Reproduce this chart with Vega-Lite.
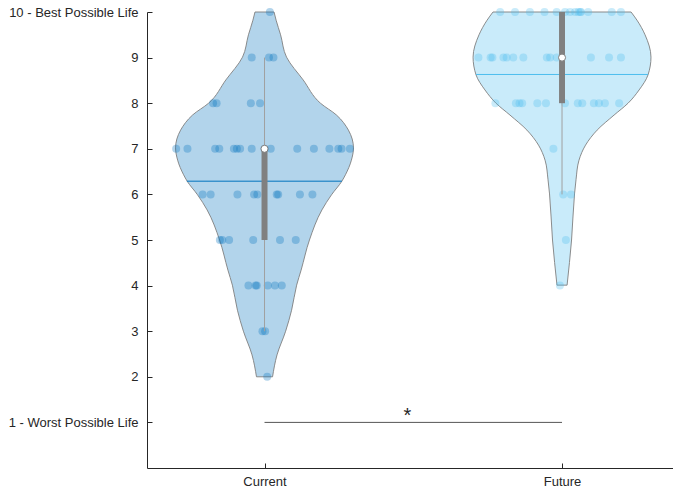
{
  "$schema": "https://vega.github.io/schema/vega-lite/v6.json",
  "width": 526,
  "height": 456,
  "autosize": {"type": "none"},
  "padding": {"left": 147, "top": 12, "right": 0, "bottom": 23},
  "background": "white",
  "config": {
    "view": {"stroke": null},
    "axis": {
      "grid": false,
      "domainColor": "#262626",
      "tickColor": "#262626",
      "labelColor": "#262626",
      "labelFont": "Liberation Sans",
      "labelFontSize": 13,
      "tickSize": -5,
      "domainWidth": 1,
      "tickWidth": 1
    }
  },
  "datasets": {
    "violin": [
      {"g": "Current", "y": 2.0, "lo": 0.973, "hi": 1.027},
      {"g": "Current", "y": 2.48, "lo": 0.958, "hi": 1.042},
      {"g": "Current", "y": 3.0, "lo": 0.929, "hi": 1.071},
      {"g": "Current", "y": 3.46, "lo": 0.909, "hi": 1.091},
      {"g": "Current", "y": 4.01, "lo": 0.892, "hi": 1.108},
      {"g": "Current", "y": 4.34, "lo": 0.877, "hi": 1.123},
      {"g": "Current", "y": 5.0, "lo": 0.849, "hi": 1.151},
      {"g": "Current", "y": 5.66, "lo": 0.807, "hi": 1.193},
      {"g": "Current", "y": 5.99, "lo": 0.775, "hi": 1.225},
      {"g": "Current", "y": 6.29, "lo": 0.74, "hi": 1.26},
      {"g": "Current", "y": 6.43, "lo": 0.728, "hi": 1.272},
      {"g": "Current", "y": 6.75, "lo": 0.708, "hi": 1.292},
      {"g": "Current", "y": 7.02, "lo": 0.701, "hi": 1.299},
      {"g": "Current", "y": 7.41, "lo": 0.718, "hi": 1.282},
      {"g": "Current", "y": 7.74, "lo": 0.758, "hi": 1.242},
      {"g": "Current", "y": 8.0, "lo": 0.812, "hi": 1.188},
      {"g": "Current", "y": 8.51, "lo": 0.87, "hi": 1.13},
      {"g": "Current", "y": 9.01, "lo": 0.926, "hi": 1.074},
      {"g": "Current", "y": 9.5, "lo": 0.946, "hi": 1.054},
      {"g": "Current", "y": 9.82, "lo": 0.961, "hi": 1.039},
      {"g": "Current", "y": 10.0, "lo": 0.968, "hi": 1.032},
      {"g": "Future", "y": 4.01, "lo": 1.983, "hi": 2.017},
      {"g": "Future", "y": 5.0, "lo": 1.968, "hi": 2.032},
      {"g": "Future", "y": 6.01, "lo": 1.958, "hi": 2.042},
      {"g": "Future", "y": 6.32, "lo": 1.953, "hi": 2.047},
      {"g": "Future", "y": 6.75, "lo": 1.943, "hi": 2.057},
      {"g": "Future", "y": 7.08, "lo": 1.921, "hi": 2.079},
      {"g": "Future", "y": 7.41, "lo": 1.882, "hi": 2.118},
      {"g": "Future", "y": 7.74, "lo": 1.825, "hi": 2.175},
      {"g": "Future", "y": 8.0, "lo": 1.778, "hi": 2.222},
      {"g": "Future", "y": 8.29, "lo": 1.741, "hi": 2.259},
      {"g": "Future", "y": 8.62, "lo": 1.711, "hi": 2.289},
      {"g": "Future", "y": 9.01, "lo": 1.701, "hi": 2.299},
      {"g": "Future", "y": 9.5, "lo": 1.721, "hi": 2.279},
      {"g": "Future", "y": 9.82, "lo": 1.748, "hi": 2.252},
      {"g": "Future", "y": 10.0, "lo": 1.768, "hi": 2.232}
    ],
    "points": [
      {"g": "Current", "x": 1.018, "y": 10},
      {"g": "Current", "x": 0.957, "y": 9},
      {"g": "Current", "x": 1.015, "y": 9},
      {"g": "Current", "x": 1.03, "y": 9},
      {"g": "Current", "x": 0.827, "y": 8},
      {"g": "Current", "x": 0.839, "y": 8},
      {"g": "Current", "x": 0.954, "y": 8},
      {"g": "Current", "x": 0.985, "y": 8},
      {"g": "Current", "x": 0.703, "y": 7},
      {"g": "Current", "x": 0.741, "y": 7},
      {"g": "Current", "x": 0.834, "y": 7},
      {"g": "Current", "x": 0.848, "y": 7},
      {"g": "Current", "x": 0.897, "y": 7},
      {"g": "Current", "x": 0.907, "y": 7},
      {"g": "Current", "x": 0.918, "y": 7},
      {"g": "Current", "x": 0.957, "y": 7},
      {"g": "Current", "x": 1.0, "y": 7},
      {"g": "Current", "x": 1.021, "y": 7},
      {"g": "Current", "x": 1.11, "y": 7},
      {"g": "Current", "x": 1.166, "y": 7},
      {"g": "Current", "x": 1.218, "y": 7},
      {"g": "Current", "x": 1.248, "y": 7},
      {"g": "Current", "x": 1.259, "y": 7},
      {"g": "Current", "x": 1.287, "y": 7},
      {"g": "Current", "x": 0.792, "y": 6},
      {"g": "Current", "x": 0.819, "y": 6},
      {"g": "Current", "x": 0.909, "y": 6},
      {"g": "Current", "x": 0.965, "y": 6},
      {"g": "Current", "x": 0.976, "y": 6},
      {"g": "Current", "x": 1.041, "y": 6},
      {"g": "Current", "x": 1.046, "y": 6},
      {"g": "Current", "x": 1.119, "y": 6},
      {"g": "Current", "x": 1.161, "y": 6},
      {"g": "Current", "x": 0.85, "y": 5},
      {"g": "Current", "x": 0.858, "y": 5},
      {"g": "Current", "x": 0.881, "y": 5},
      {"g": "Current", "x": 0.962, "y": 5},
      {"g": "Current", "x": 1.052, "y": 5},
      {"g": "Current", "x": 1.105, "y": 5},
      {"g": "Current", "x": 0.946, "y": 4},
      {"g": "Current", "x": 0.97, "y": 4},
      {"g": "Current", "x": 0.974, "y": 4},
      {"g": "Current", "x": 1.011, "y": 4},
      {"g": "Current", "x": 1.035, "y": 4},
      {"g": "Current", "x": 1.058, "y": 4},
      {"g": "Current", "x": 0.993, "y": 3},
      {"g": "Current", "x": 1.002, "y": 3},
      {"g": "Current", "x": 1.009, "y": 2},
      {"g": "Future", "x": 1.792, "y": 10},
      {"g": "Future", "x": 1.842, "y": 10},
      {"g": "Future", "x": 1.892, "y": 10},
      {"g": "Future", "x": 1.941, "y": 10},
      {"g": "Future", "x": 1.982, "y": 10},
      {"g": "Future", "x": 2.01, "y": 10},
      {"g": "Future", "x": 2.027, "y": 10},
      {"g": "Future", "x": 2.044, "y": 10},
      {"g": "Future", "x": 2.055, "y": 10},
      {"g": "Future", "x": 2.061, "y": 10},
      {"g": "Future", "x": 2.064, "y": 10},
      {"g": "Future", "x": 2.088, "y": 10},
      {"g": "Future", "x": 2.167, "y": 10},
      {"g": "Future", "x": 2.198, "y": 10},
      {"g": "Future", "x": 1.719, "y": 9},
      {"g": "Future", "x": 1.76, "y": 9},
      {"g": "Future", "x": 1.766, "y": 9},
      {"g": "Future", "x": 1.803, "y": 9},
      {"g": "Future", "x": 1.814, "y": 9},
      {"g": "Future", "x": 1.836, "y": 9},
      {"g": "Future", "x": 1.87, "y": 9},
      {"g": "Future", "x": 1.949, "y": 9},
      {"g": "Future", "x": 1.96, "y": 9},
      {"g": "Future", "x": 1.982, "y": 9},
      {"g": "Future", "x": 2.097, "y": 9},
      {"g": "Future", "x": 2.158, "y": 9},
      {"g": "Future", "x": 2.198, "y": 9},
      {"g": "Future", "x": 1.776, "y": 8},
      {"g": "Future", "x": 1.845, "y": 8},
      {"g": "Future", "x": 1.857, "y": 8},
      {"g": "Future", "x": 1.866, "y": 8},
      {"g": "Future", "x": 1.917, "y": 8},
      {"g": "Future", "x": 1.946, "y": 8},
      {"g": "Future", "x": 2.01, "y": 8},
      {"g": "Future", "x": 2.053, "y": 8},
      {"g": "Future", "x": 2.068, "y": 8},
      {"g": "Future", "x": 2.107, "y": 8},
      {"g": "Future", "x": 2.124, "y": 8},
      {"g": "Future", "x": 2.144, "y": 8},
      {"g": "Future", "x": 2.192, "y": 8},
      {"g": "Future", "x": 1.971, "y": 7},
      {"g": "Future", "x": 2.004, "y": 6},
      {"g": "Future", "x": 2.03, "y": 6},
      {"g": "Future", "x": 2.013, "y": 5},
      {"g": "Future", "x": 1.993, "y": 4}
    ],
    "stats": [
      {"g": "Current", "c": 1, "q1": 5, "q3": 7, "wlo": 3, "whi": 9, "med": 7, "mean": 6.29, "mlo": 0.739, "mhi": 1.26},
      {"g": "Future", "c": 2, "q1": 8, "q3": 10, "wlo": 6, "whi": 10, "med": 9, "mean": 8.63, "mlo": 1.711, "mhi": 2.289}
    ],
    "sig": [
      {"x1": 1, "x2": 2, "y": 1, "xm": 1.48, "label": "*"}
    ]
  },
  "layer": [
    {
      "data": {"name": "violin"},
      "mark": {"type": "area", "orient": "horizontal", "interpolate": "monotone", "fillOpacity": 0.3, "stroke": "#808080", "strokeWidth": 1, "strokeOpacity": 0.9},
      "encoding": {
        "y": {"field": "y", "type": "quantitative", "title": null, "scale": {"domain": [0, 10], "nice": false, "zero": false},
          "axis": {"values": [1, 2, 3, 4, 5, 6, 7, 8, 9, 10], "title": null, "labelPadding": 14,
            "labelExpr": "datum.value == 10 ? '10 - Best Possible Life' : (datum.value == 1 ? '1 - Worst Possible Life' : datum.label)"}},
        "x": {"field": "lo", "type": "quantitative", "title": null, "scale": {"domain": [0.605, 2.373], "nice": false, "zero": false},
          "axis": {"values": [1, 2], "title": null, "labelPadding": 12,
            "labelExpr": "datum.value == 1 ? 'Current' : 'Future'"}},
        "x2": {"field": "hi"},
        "color": {"field": "g", "type": "nominal", "scale": {"domain": ["Current", "Future"], "range": ["#0072BD", "#4DBEEE"]}, "legend": null}
      }
    },
    {
      "data": {"name": "points"},
      "mark": {"type": "circle", "size": 64, "opacity": 0.3},
      "encoding": {
        "x": {"field": "x", "type": "quantitative", "title": null},
        "y": {"field": "y", "type": "quantitative", "title": null},
        "color": {"field": "g", "type": "nominal", "legend": null}
      }
    },
    {
      "data": {"name": "stats"},
      "mark": {"type": "rule", "strokeWidth": 1},
      "encoding": {
        "x": {"field": "mlo", "type": "quantitative", "title": null},
        "x2": {"field": "mhi"},
        "y": {"field": "mean", "type": "quantitative", "title": null},
        "color": {"field": "g", "type": "nominal", "legend": null}
      }
    },
    {
      "data": {"name": "stats"},
      "mark": {"type": "rule", "strokeWidth": 1, "color": "#a0a0a0"},
      "encoding": {
        "x": {"field": "c", "type": "quantitative", "title": null},
        "y": {"field": "wlo", "type": "quantitative", "title": null},
        "y2": {"field": "whi"}
      }
    },
    {
      "data": {"name": "stats"},
      "mark": {"type": "rule", "strokeWidth": 6, "color": "#808080", "strokeCap": "butt"},
      "encoding": {
        "x": {"field": "c", "type": "quantitative", "title": null},
        "y": {"field": "q1", "type": "quantitative", "title": null},
        "y2": {"field": "q3"}
      }
    },
    {
      "data": {"name": "stats"},
      "mark": {"type": "point", "filled": true, "fill": "white", "stroke": "#808080", "strokeWidth": 1, "size": 50, "opacity": 1},
      "encoding": {
        "x": {"field": "c", "type": "quantitative", "title": null},
        "y": {"field": "med", "type": "quantitative", "title": null}
      }
    },
    {
      "data": {"name": "sig"},
      "mark": {"type": "rule", "strokeWidth": 1, "color": "#555555"},
      "encoding": {
        "x": {"field": "x1", "type": "quantitative", "title": null},
        "x2": {"field": "x2"},
        "y": {"field": "y", "type": "quantitative", "title": null}
      }
    },
    {
      "data": {"name": "sig"},
      "mark": {"type": "text", "font": "Liberation Sans", "fontSize": 20, "color": "#262626", "align": "center", "baseline": "alphabetic", "dy": 0},
      "encoding": {
        "x": {"field": "xm", "type": "quantitative", "title": null},
        "y": {"field": "y", "type": "quantitative", "title": null},
        "text": {"field": "label"}
      }
    }
  ]
}
